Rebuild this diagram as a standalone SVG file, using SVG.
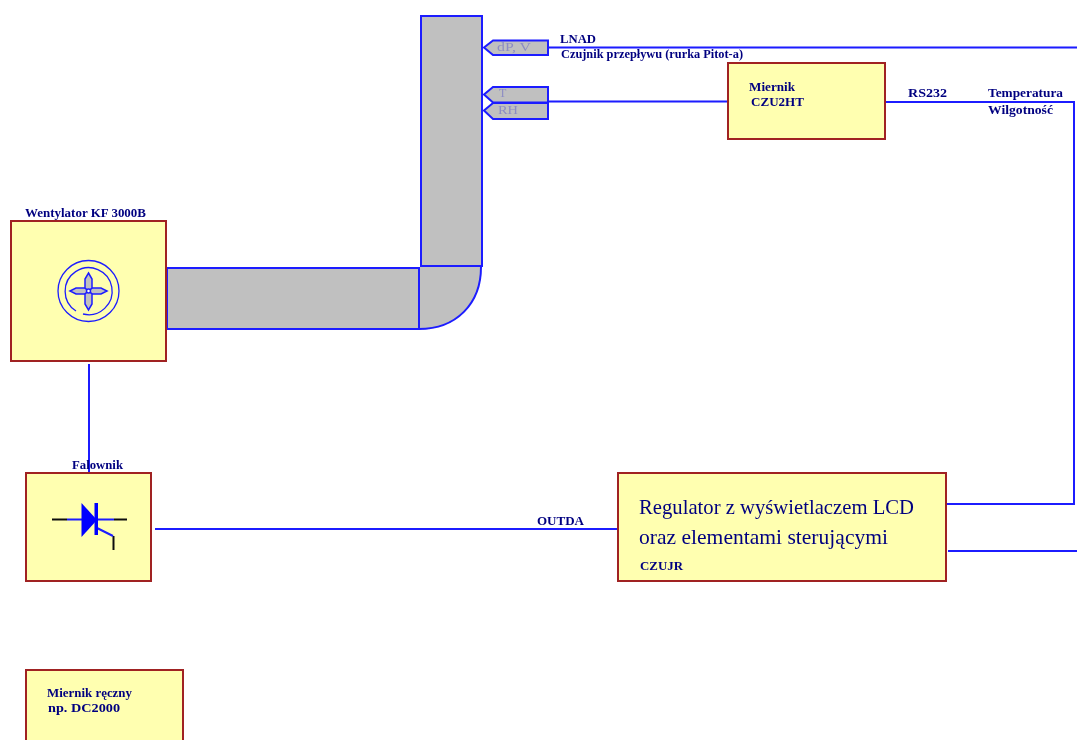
<svg xmlns="http://www.w3.org/2000/svg" width="1077" height="740" viewBox="0 0 1077 740">
<style>
.box{fill:#ffffb0;stroke:#a02020;stroke-width:2}
.duct{fill:#c0c0c0;stroke:#1c1cff;stroke-width:2}
.wire{fill:none;stroke:#1c1cff;stroke-width:2}
.fan{fill:none;stroke:#1c1cff;stroke-width:1.300}
.blk{fill:none;stroke:#101010;stroke-width:2}
text{font-family:"Liberation Serif","DejaVu Serif",serif;fill:#000080;font-size:11.500px;font-weight:bold}
.big{font-size:21px;font-weight:normal}
.sens{fill:#8c8cc4;font-weight:normal;font-size:12px}
</style>
<defs><filter id="soft" x="-2%" y="-2%" width="104%" height="104%"><feGaussianBlur stdDeviation="0.5"/></filter></defs>
<rect width="1077" height="740" fill="#ffffff"/>
<g filter="url(#soft)">
<g id="connectors">
<path class="wire" d="M548 47.500H1077"/>
<path class="wire" d="M548 101.500H728"/>
<path class="wire" d="M885 102H1074V504H946"/>
<path class="wire" d="M948 551H1077"/>
<path class="wire" d="M155 529H618"/>
<path class="wire" d="M89 364V473"/>
</g>
<g id="duct">
<rect class="duct" x="167" y="268" width="252" height="61"/>
<path d="M420 267H481C481 304 456 329 420 329Z" fill="#c0c0c0"/>
<path class="wire" d="M481 267C481 304 456 329 419 329"/>
<rect class="duct" x="421" y="16" width="61" height="250"/>
</g>
<g id="sensor-dpv">
<path class="duct" d="M484 47.500L493 40.500H548V55H493Z"/>
<text class="sens" x="497" y="51" textLength="34" lengthAdjust="spacingAndGlyphs">dP, V</text>
</g>
<g id="sensor-t">
<path class="duct" d="M484 94.500L493 87H548V102.500H493Z"/>
<text class="sens" x="499" y="97">T</text>
</g>
<g id="sensor-rh">
<path class="duct" d="M484 110.500L493 103H548V119H493Z"/>
<text class="sens" x="498" y="114" textLength="20" lengthAdjust="spacingAndGlyphs">RH</text>
</g>
<g id="label-load">
<text x="560" y="43" textLength="36" lengthAdjust="spacingAndGlyphs">LNAD</text>
<text x="561" y="58" textLength="182" lengthAdjust="spacingAndGlyphs">Czujnik przepływu (rurka Pitot-a)</text>
</g>
<g id="node-miernik">
<rect class="box" x="728" y="63" width="157" height="76"/>
<text x="749" y="91" textLength="46" lengthAdjust="spacingAndGlyphs">Miernik</text>
<text x="751" y="106" textLength="53" lengthAdjust="spacingAndGlyphs">CZU2HT</text>
</g>
<g id="label-rs232">
<text x="908" y="97" textLength="39" lengthAdjust="spacingAndGlyphs">RS232</text>
<text x="988" y="97" textLength="75" lengthAdjust="spacingAndGlyphs">Temperatura</text>
<text x="988" y="114" textLength="65" lengthAdjust="spacingAndGlyphs">Wilgotność</text>
</g>
<g id="node-wentylator">
<text x="25" y="217" textLength="121" lengthAdjust="spacingAndGlyphs">Wentylator KF 3000B</text>
<rect class="box" x="11" y="221" width="155" height="140"/>
<circle class="fan" cx="88.500" cy="291" r="30.500"/>
<path class="fan" d="M76 311A23.500 23.500 0 1 1 83 314"/>
<path d="M70 291L76 288H85L88.500 291L92 288H101L107 291L101 294H92L88.500 291L85 294H76Z" fill="#c0c0c0" stroke="#1c1cff" stroke-width="1.500"/>
<path d="M88.500 273L92 279V288L88.500 291L92 294V304L88.500 310L85 304V294L88.500 291L85 288V279Z" fill="#c0c0c0" stroke="#1c1cff" stroke-width="1.500"/>
<circle cx="88.500" cy="291" r="2" fill="#ffffff" stroke="#1c1cff" stroke-width="1.500"/>
</g>
<g id="node-falownik">
<rect class="box" x="26" y="473" width="125" height="108"/>
<path class="blk" d="M52 519.500H67M114 519.500H127M113.500 536V550"/>
<path class="wire" d="M67 519.500H114M97 528L113 536"/>
<path d="M81.500 503L97 520L81.500 537Z" fill="#0000ff"/>
<rect x="94.500" y="503" width="3.500" height="32" fill="#0000ff"/>
<text x="72" y="469" textLength="51" lengthAdjust="spacingAndGlyphs">Falownik</text>
</g>
<g id="node-regulator">
<rect class="box" x="618" y="473" width="328" height="108"/>
<text class="big" x="639" y="514" textLength="275" lengthAdjust="spacingAndGlyphs">Regulator z wyświetlaczem LCD</text>
<text class="big" x="639" y="544" textLength="249" lengthAdjust="spacingAndGlyphs">oraz elementami sterującymi</text>
<text x="640" y="570" textLength="43" lengthAdjust="spacingAndGlyphs">CZUJR</text>
</g>
<g id="label-outda">
<text x="537" y="525" textLength="47" lengthAdjust="spacingAndGlyphs">OUTDA</text>
</g>
<g id="node-reczny">
<rect class="box" x="26" y="670" width="157" height="80"/>
<text x="47" y="697" textLength="85" lengthAdjust="spacingAndGlyphs">Miernik ręczny</text>
<text x="48" y="712" textLength="72" lengthAdjust="spacingAndGlyphs">np. DC2000</text>
</g>
</g>
</svg>
